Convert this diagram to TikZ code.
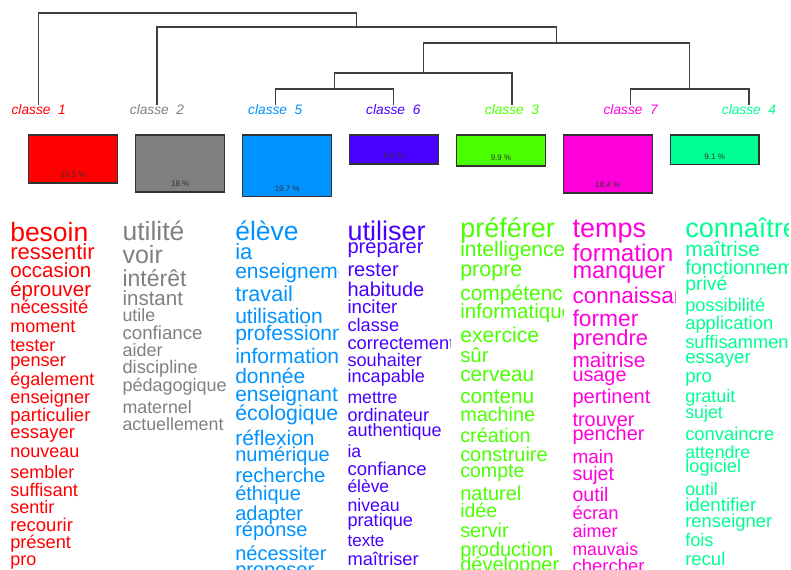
\documentclass[tikz,border=0pt]{standalone}
\usepackage{fontspec}
\setmainfont{Liberation Sans}
\definecolor{cA}{HTML}{FF0000}
\definecolor{cB}{HTML}{808080}
\definecolor{cC}{HTML}{49FF00}
\definecolor{cD}{HTML}{00FF92}
\definecolor{cE}{HTML}{0092FF}
\definecolor{cF}{HTML}{4900FF}
\definecolor{cG}{HTML}{FF00DB}
\newcommand\wordcol[4]{%
  \begin{scope}
    \clip (#2-2,200) rectangle (#2+103,570);
    \foreach \w/\s/\y [count=\i] in {#4} {%
      \pgfmathsetmacro\fs{0.75*\s}%
      \node[wordtxt, text=#3, font=\fontsize{\fs pt}{\fs pt}\selectfont] (#1w\i) at (#2,\y) {\w};
    }
  \end{scope}}
\begin{document}
\begin{tikzpicture}[x=0.75pt,y=-0.75pt,
  dend/.style={draw=black!75, line width=0.8pt},
  clslab/.style={anchor=base, inner sep=0pt, font=\fontsize{10.3pt}{10.3pt}\selectfont\itshape},
  pbox/.style={draw=black!80, line width=0.8pt},
  pct/.style={anchor=base, inner sep=0pt, text=black!80, font=\fontsize{6pt}{6pt}\selectfont},
  wordtxt/.style={anchor=base west, inner sep=0pt}]
\useasboundingbox (0,0) rectangle (791,570);
% leaves
\coordinate (l1) at (38.7,105);
\coordinate (l2) at (157,105);
\coordinate (l5) at (275.3,105);
\coordinate (l6) at (393.3,105);
\coordinate (l3) at (512,105);
\coordinate (l7) at (630.7,105);
\coordinate (l4) at (749,105);
% internal joins
\coordinate (F) at (334.3,89);
\coordinate (E) at (689.8,89);
\coordinate (D) at (423.2,73);
\coordinate (C) at (556.5,43);
\coordinate (B) at (356.8,27);
\coordinate (A) at (197.7,13);
\draw[dend] (l5) |- (F) -| (l6);
\draw[dend] (l7) |- (E) -| (l4);
\draw[dend] (F) |- (D) -| (l3);
\draw[dend] (D) |- (C) -| (E);
\draw[dend] (l2) |- (B) -| (C);
\draw[dend] (l1) |- (A) -| (B);
% class labels
\begin{scope}
\clip (0,100) rectangle (791,113.5);
\node[clslab, text=cA] (t1) at (38.7,115) {classe\ \ 1};
\node[clslab, text=cB] (t2) at (157,115) {classe\ \ 2};
\node[clslab, text=cE] (t5) at (275.3,115) {classe\ \ 5};
\node[clslab, text=cF] (t6) at (393.3,115) {classe\ \ 6};
\node[clslab, text=cC] (t3) at (512,115) {classe\ \ 3};
\node[clslab, text=cG] (t7) at (630.7,115) {classe\ \ 7};
\node[clslab, text=cD] (t4) at (749,115) {classe\ \ 4};
\end{scope}
% boxes
\draw[pbox, fill=cA] (28.7,135) rectangle (117.7,183);
\node[pct] (p1) at (73.2,177.5) {15.5 \%};
\draw[pbox, fill=cB] (135.7,135) rectangle (224.7,192);
\node[pct] (p2) at (180.2,186.5) {18 \%};
\draw[pbox, fill=cE] (242.7,135) rectangle (331.7,196.7);
\node[pct] (p5) at (287.2,191.2) {19.7 \%};
\draw[pbox, fill=cF] (349.3,135) rectangle (438.7,164);
\node[pct] (p6) at (394,158.5) {9.4 \%};
\draw[pbox, fill=cC] (456.7,135) rectangle (545.3,166);
\node[pct] (p3) at (501,160.5) {9.9 \%};
\draw[pbox, fill=cG] (563.3,135) rectangle (652.3,193);
\node[pct] (p7) at (607.8,187.5) {18.4 \%};
\draw[pbox, fill=cD] (670.3,135) rectangle (759,164.7);
\node[pct] (p4) at (714.7,159.2) {9.1 \%};
% word columns
\wordcol{a}{10}{cA}{besoin/26.5/241, ressentir/22/259.5, occasion/20.5/277.7, éprouver/20.5/296, nécessité/18.5/313.5, moment/18/332.7, tester/18/351.7, penser/18.2/366, également/18/385, enseigner/18.2/403.3, particulier/18.5/421.7, essayer/18.5/438.3, nouveau/18/457.3, sembler/18/478.3, suffisant/18.3/496, sentir/18/513.3, recourir/18.5/531.7, présent/18.2/548.3, pro/18/565}
\wordcol{b}{122.3}{cB}{utilité/26.5/240.7, voir/25/263, intérêt/23/286, instant/20.5/305, utile/17.8/321.7, confiance/18.7/339.3, aider/18/356.7, discipline/18.3/373.3, pédagogique/18/391.7, maternel/17.8/413.3, actuellement/17.8/430}
\wordcol{e}{235}{cE}{élève/26.5/240, ia/22/259.3, enseignement/21/278.3, travail/21.6/301.7, utilisation/21/323.3, professionnel/21/340, information/21/363.3, donnée/21/383.3, enseignant/21/401.7, écologique/21.3/420, réflexion/21/445, numérique/20/461.7, recherche/20.3/482.7, éthique/20/500, adapter/20/520, réponse/20/536.7, nécessiter/20/560, proposer/20/576.7}
\wordcol{f}{347.3}{cF}{utiliser/27/240, préparer/20.1/253.3, rester/20/276.7, habitude/20/296, inciter/18.7/313.3, classe/18.2/331, correctement/18.3/349, souhaiter/18.1/366.7, incapable/18.1/382.7, mettre/17.6/403.3, ordinateur/18.1/421.7, authentique/18/436.7, ia/17.6/457.3, confiance/18.5/475, élève/17.4/492.7, niveau/17.7/511.7, pratique/18.1/526.7, texte/17/546.7, maîtriser/18.3/565}
\wordcol{c}{460}{cC}{préférer/27/237.3, intelligence/21/256.7, propre/21.5/276.7, compétence/21/300, informatique/20.5/318.3, exercice/21.2/342.7, sûr/20.4/362.7, cerveau/20.8/381.7, contenu/20.8/403.3, machine/19.8/421.7, création/19.8/442.7, construire/19.9/461.7, compte/19.6/477.3, naturel/20/500, idée/19.5/517.3, servir/19.8/537.3, production/19.9/556, développer/20/571.7}
\wordcol{g}{572.3}{cG}{temps/27/237.3, formation/24.2/261.7, manquer/23.5/278.3, connaissance/22.5/303.3, former/22.8/326.7, prendre/21.9/345, maitrise/20.8/367.7, usage/19.8/381.7, pertinent/20/403.3, trouver/19.9/426, pencher/19.9/440.7, main/19/463.3, sujet/19.6/480.7, outil/19.6/501.7, écran/18.4/519.3, aimer/18/537.3, mauvais/17.6/555, chercher/18.5/572.7}
\wordcol{d}{685}{cD}{connaître/27/237.3, maîtrise/21/256.7, fonctionnement/20/274, privé/19.5/290.7, possibilité/18.2/311.7, application/18.4/329.3, suffisamment/18.3/348.3, essayer/18.7/363.3, pro/18.5/382.7, gratuit/18/402.3, sujet/17.8/418.3, convaincre/18.4/440.7, attendre/17.7/458.3, logiciel/18.3/472.7, outil/17.8/495, identifier/18.8/511.7, renseigner/18.4/527.3, fois/18.2/546.7, recul/18.5/565}
\end{tikzpicture}
\end{document}
